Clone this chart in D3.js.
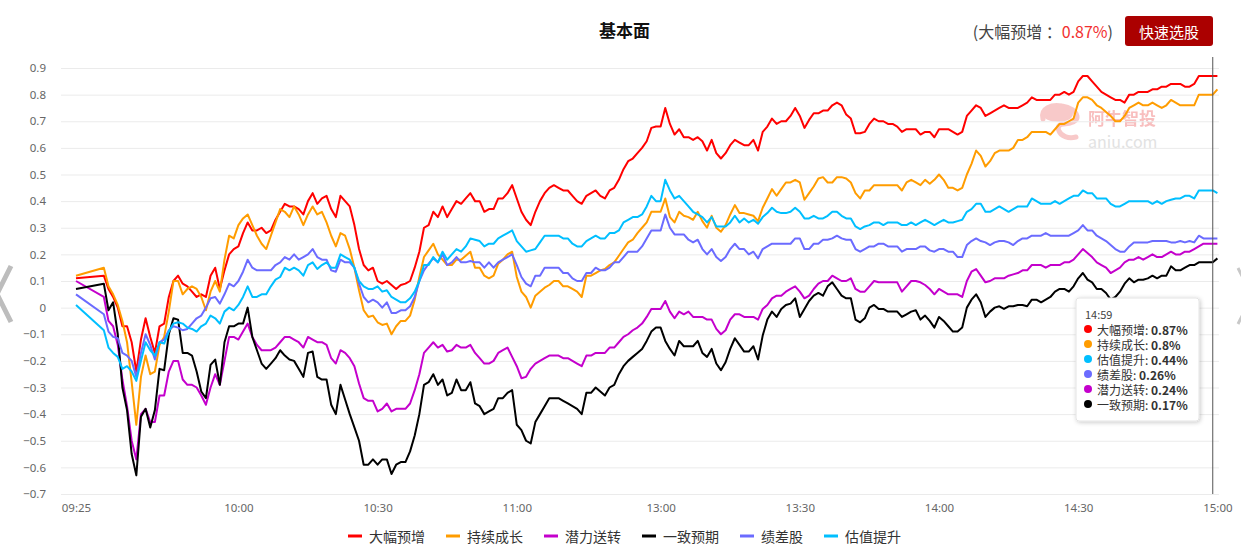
<!DOCTYPE html>
<html lang="zh">
<head>
<meta charset="UTF-8">
<title>基本面</title>
<script src="https://cdn.jsdelivr.net/npm/d3@7/dist/d3.min.js"></script>
<style>
  body { margin: 0; background: #fff; }
  .chart { width: 1241px; height: 557px; }
  text { font-family: "Noto Sans CJK SC", "Noto Sans", sans-serif; }
  .axis text { font-family: "Noto Sans", "DejaVu Sans", sans-serif; font-size: 11.5px; fill: #666; }
  .axis line { stroke: #ebebeb; }
  .axis path { display: none; }
</style>
</head>
<body>
<div class="chart"></div>
<script>
// --- data ---------------------------------------------------------------
// minute categories: 09:25 .. 11:30, 13:00 .. 15:00
var times = [];
function pad(n) { return (n < 10 ? "0" : "") + n; }
for (var m = 9 * 60 + 25; m <= 11 * 60 + 30; m++) times.push(pad(Math.floor(m / 60)) + ":" + pad(m % 60));
for (var m2 = 13 * 60; m2 <= 15 * 60; m2++) times.push(pad(Math.floor(m2 / 60)) + ":" + pad(m2 % 60));

var xTickLabels = ["09:25", "10:00", "10:30", "11:00", "13:00", "13:30", "14:00", "14:30", "15:00"];
var yTickValues = [-0.7, -0.6, -0.5, -0.4, -0.3, -0.2, -0.1, 0, 0.1, 0.2, 0.3, 0.4, 0.5, 0.6, 0.7, 0.8, 0.9];

var seriesNames = ["大幅预增", "持续成长", "潜力送转", "一致预期", "绩差股", "估值提升"];
var seriesColors = ["#ff0000", "#ff9c00", "#c400cc", "#000000", "#6b6bff", "#00bfff"];

var dafuyuzeng = [
  .11, null, null, null, null, null, .12, .07, .04, .00,
  -.07, -.07, -.13, -.24, -.12, -.04, -.11, -.17, -.07, -.06,
  .04, .10, .12, .09, .08, .06, .04, .05, .04, .12,
  .15, .07, .14, .20, .22, .23, .28, .32, .29, .29,
  .30, .28, .29, .33, .36, .39, .38, .38, .37, .35,
  .40, .43, .39, .41, .42, .37, .34, .42, .40, .38,
  .31, .22, .16, .14, .15, .10, .09, .10, .085, .07,
  .085, .09, .10, .15, .21, .30, .31, .36, .34, .38,
  .34, .37, .40, .39, .41, .43, .40, .40, .36, .37,
  .37, .41, .41, .43, .46, .41, .36, .33, .31, .36,
  .40, .43, .45, .46, .45, .44, .44, .42, .40, .39,
  .42, .43, .44, .42, .41, .44, .45, .48, .52, .55,
  .56, .58, .60, .625, .675, .68, .68, .75, .69, .65,
  .67, .64, .64, .63, .64, .625, .59, .63, .58, .56,
  .58, .61, .63, .62, .61, .61, .63, .59, .66, .68,
  .71, .69, .70, .70, .72, .75, .72, .675, .705, .73,
  .73, .74, .74, .76, .77, .76, .725, .71, .655, .655,
  .66, .69, .71, .70, .70, .69, .69, .68, .66, .67,
  .67, .67, .65, .66, .66, .64, .67, .67, .67, .66,
  .65, .66, .72, .74, .76, .75, .72, .73, .74, .75,
  .76, .75, .75, .75, .76, .77, .79, .78, .78, .78,
  .78, .80, .80, .81, .80, .81, .85, .87, .87, .85,
  .83, .81, .80, .79, .78, .78, .77, .80, .80, .81,
  .81, .81, .82, .82, .83, .83, .84, .84, .84, .83,
  .83, .84, .87, .87, .87, .87, .87
];

var chixuchengzhang = [
  .12, null, null, null, null, null, .15, .08, .05, .01,
  -.05, -.13, -.28, -.44, -.26, -.18, -.25, -.24, -.14, -.11,
  -.015, .10, .10, .05, .07, .08, .07, .04, -.01, .06,
  .10, .06, .18, .27, .26, .31, .335, .35, .31, .27,
  .24, .22, .27, .32, .37, .36, .34, .38, .35, .31,
  .35, .38, .35, .36, .32, .27, .23, .28, .27, .22,
  .15, .065, -.01, -.035, -.03, -.055, -.065, -.06, -.10, -.07,
  -.05, -.05, -.03, .03, .115, .19, .215, .24, .20, .18,
  .16, .16, .18, .18, .195, .21, .15, .15, .12, .11,
  .12, .165, .18, .20, .21, .115, .06, .04, .00, .045,
  .06, .075, .085, .10, .10, .08, .08, .07, .06, .04,
  .12, .12, .13, .14, .145, .16, .17, .195, .22, .245,
  .255, .28, .30, .32, .36, .36, .36, .41, .34, .32,
  .36, .345, .34, .33, .36, .325, .30, .345, .30, .285,
  .31, .35, .385, .355, .355, .35, .345, .325, .375, .41,
  .445, .42, .445, .47, .47, .48, .47, .405, .43, .455,
  .485, .49, .47, .47, .49, .49, .485, .47, .43, .41,
  .44, .44, .46, .46, .46, .46, .46, .46, .44, .47,
  .48, .47, .46, .48, .465, .48, .50, .48, .45, .45,
  .44, .45, .50, .54, .59, .57, .53, .55, .58, .59,
  .59, .59, .60, .63, .63, .64, .66, .66, .66, .66,
  .65, .67, .69, .69, .70, .71, .77, .79, .79, .78,
  .76, .75, .735, .72, .70, .70, .72, .75, .76, .77,
  .76, .76, .77, .76, .75, .76, .78, .77, .76, .76,
  .76, .76, .80, .80, .80, .80, .82
];

var qianlisongzhuan = [
  .10, null, null, null, null, null, .04, -.05, -.07, -.14,
  -.27, -.37, -.50, -.57, -.40, -.38, -.43, -.43, -.33, -.33,
  -.24, -.20, -.20, -.27, -.29, -.29, -.30, -.33, -.365, -.30,
  -.25, -.29, -.20, -.11, -.11, -.12, -.09, -.06, -.11, -.14,
  -.16, -.16, -.16, -.15, -.13, -.11, -.11, -.12, -.13, -.15,
  -.11, -.12, -.13, -.13, -.14, -.19, -.21, -.16, -.17, -.19,
  -.22, -.285, -.34, -.35, -.35, -.39, -.38, -.36, -.39, -.38,
  -.38, -.38, -.36, -.31, -.25, -.17, -.15, -.13, -.15, -.14,
  -.165, -.16, -.14, -.15, -.15, -.14, -.17, -.19, -.21, -.21,
  -.20, -.17, -.16, -.15, -.185, -.22, -.265, -.26, -.23, -.21,
  -.20, -.19, -.18, -.18, -.18, -.19, -.19, -.20, -.21, -.22,
  -.18, -.18, -.17, -.17, -.17, -.15, -.15, -.13, -.11, -.10,
  -.085, -.075, -.06, -.035, -.005, -.005, -.005, .025, -.015, -.04,
  -.015, -.025, -.015, -.035, -.035, -.035, -.045, -.045, -.08, -.10,
  -.085, -.045, -.025, -.025, -.035, -.035, -.035, -.045, -.005, .01,
  .035, .045, .045, .06, .07, .08, .06, .035, .045, .07,
  .09, .10, .10, .12, .11, .10, .10, .11, .07, .06,
  .06, .08, .10, .095, .095, .095, .095, .095, .06, .08,
  .10, .10, .095, .085, .07, .05, .07, .06, .05, .05,
  .05, .04, .10, .135, .145, .12, .095, .10, .11, .11,
  .11, .12, .125, .13, .14, .14, .16, .16, .16, .15,
  .16, .16, .16, .17, .17, .18, .20, .22, .205, .19,
  .17, .16, .15, .13, .14, .15, .17, .18, .18, .19,
  .18, .19, .20, .19, .19, .20, .21, .20, .20, .21,
  .21, .22, .23, .24, .24, .24, .24
];

var yizhiyuqi = [
  .07, null, null, null, null, null, .09, -.01, .02, -.10,
  -.30, -.385, -.55, -.63, -.41, -.38, -.45, -.385, -.23, -.235,
  -.10, -.04, -.045, -.17, -.17, -.18, -.24, -.315, -.34, -.215,
  -.195, -.29, -.13, -.07, -.07, -.06, -.06, .00, -.11, -.16,
  -.21, -.23, -.21, -.19, -.16, -.18, -.195, -.20, -.23, -.26,
  -.17, -.165, -.26, -.27, -.27, -.365, -.40, -.29, -.345, -.40,
  -.45, -.50, -.59, -.59, -.57, -.59, -.57, -.57, -.625, -.59,
  -.58, -.58, -.54, -.48, -.40, -.29, -.28, -.25, -.29, -.27,
  -.33, -.32, -.27, -.31, -.31, -.28, -.36, -.37, -.40, -.39,
  -.38, -.34, -.34, -.32, -.31, -.44, -.46, -.50, -.51, -.43,
  -.40, -.37, -.34, -.34, -.34, -.35, -.36, -.37, -.38, -.40,
  -.32, -.32, -.30, -.315, -.33, -.30, -.29, -.25, -.22, -.20,
  -.185, -.17, -.155, -.125, -.09, -.075, -.075, -.125, -.155, -.18,
  -.125, -.145, -.145, -.145, -.125, -.17, -.185, -.155, -.21, -.235,
  -.205, -.155, -.115, -.14, -.165, -.165, -.145, -.195, -.105, -.045,
  -.015, -.035, -.005, .01, .015, .035, -.035, -.005, .025, .045,
  .055, .045, .08, .095, .07, .045, .035, .035, -.045, -.055,
  -.04, .00, .01, -.005, -.005, -.015, -.015, -.015, -.035, -.025,
  -.015, -.01, -.045, -.03, -.05, -.075, -.035, -.05, -.07, -.09,
  -.09, -.075, .00, .03, .05, .02, -.035, -.015, .00, .005,
  -.005, .005, .005, .01, .01, .005, .03, .03, .02, .03,
  .04, .06, .07, .07, .06, .08, .11, .13, .105, .095,
  .07, .07, .055, .03, .04, .06, .09, .11, .095, .105,
  .105, .11, .12, .11, .12, .12, .155, .14, .14, .15,
  .16, .16, .17, .17, .17, .17, .185
];

var jichagu = [
  .05, null, null, null, null, null, -.025, -.09, -.11, -.115,
  -.17, -.18, -.20, -.26, -.17, -.10, -.14, -.195, -.13, -.12,
  -.085, -.07, -.075, -.085, -.08, -.06, -.04, -.03, .00, .035,
  .04, .015, .05, .09, .08, .10, .135, .18, .15, .14,
  .14, .14, .14, .16, .17, .19, .18, .20, .18, .19,
  .20, .22, .19, .18, .18, .14, .135, .18, .17, .17,
  .15, .09, .04, .02, .03, .02, .00, .02, -.02, -.02,
  -.01, -.01, .005, .04, .10, .14, .165, .185, .17, .20,
  .16, .17, .19, .17, .17, .175, .17, .17, .15, .17,
  .15, .17, .18, .19, .20, .16, .115, .09, .08, .12,
  .12, .15, .15, .15, .15, .13, .13, .11, .10, .10,
  .13, .13, .15, .14, .14, .15, .17, .17, .19, .21,
  .21, .21, .23, .26, .29, .29, .29, .35, .30, .275,
  .275, .275, .255, .245, .255, .22, .20, .22, .19, .175,
  .19, .22, .24, .22, .22, .20, .21, .185, .22, .23,
  .24, .24, .24, .24, .24, .26, .26, .22, .22, .24,
  .24, .255, .255, .26, .27, .26, .255, .255, .22, .21,
  .22, .23, .23, .24, .24, .23, .23, .23, .21, .22,
  .22, .22, .23, .23, .215, .21, .22, .22, .21, .21,
  .19, .19, .235, .25, .26, .25, .245, .235, .245, .25,
  .25, .245, .235, .25, .26, .26, .27, .27, .27, .28,
  .27, .27, .27, .27, .27, .28, .29, .31, .29, .29,
  .27, .26, .25, .235, .22, .21, .21, .23, .245, .245,
  .245, .245, .25, .25, .25, .25, .245, .245, .25, .245,
  .25, .245, .27, .26, .26, .26, .26
];

var guzhitisheng = [
  .01, null, null, null, null, null, -.085, -.15, -.17, -.185,
  -.23, -.22, -.24, -.275, -.20, -.13, -.16, -.18, -.13, -.135,
  -.09, -.06, -.055, -.06, -.075, -.08, -.09, -.07, -.06, -.03,
  -.04, -.06, -.015, .00, -.01, .01, .04, .08, .04, .04,
  .05, .05, .08, .105, .115, .15, .14, .15, .14, .12,
  .16, .17, .145, .16, .17, .15, .15, .20, .19, .18,
  .15, .10, .08, .07, .07, .08, .06, .065, .04, .03,
  .02, .02, .035, .06, .10, .16, .16, .19, .17, .21,
  .18, .20, .22, .21, .23, .26, .255, .25, .23, .24,
  .24, .26, .27, .28, .29, .25, .23, .21, .215, .22,
  .245, .27, .27, .27, .27, .26, .26, .24, .23, .23,
  .25, .26, .27, .26, .26, .28, .28, .29, .32, .33,
  .34, .34, .35, .38, .42, .40, .40, .48, .44, .41,
  .42, .40, .38, .36, .35, .34, .32, .34, .305, .305,
  .305, .32, .345, .32, .335, .32, .33, .315, .34, .355,
  .375, .36, .355, .355, .36, .375, .36, .335, .335, .345,
  .335, .335, .345, .36, .36, .345, .335, .335, .305, .295,
  .305, .31, .32, .32, .31, .32, .32, .32, .31, .31,
  .32, .31, .32, .33, .32, .31, .32, .33, .32, .32,
  .325, .33, .36, .37, .39, .39, .36, .36, .37, .38,
  .37, .36, .37, .38, .38, .38, .41, .40, .39, .39,
  .39, .40, .39, .40, .41, .42, .42, .44, .43, .43,
  .41, .41, .41, .39, .38, .38, .39, .40, .40, .40,
  .40, .40, .39, .40, .39, .40, .405, .41, .41, .42,
  .42, .41, .44, .44, .44, .44, .43
];

var seriesValues = [dafuyuzeng, chixuchengzhang, qianlisongzhuan, yizhiyuqi, jichagu, guzhitisheng];
var cursorTime = "14:59";

seriesValues.forEach(function(s, k) {
  if (s.length != times.length) throw new Error(seriesNames[k] + " has " + s.length + " values, expected " + times.length);
});

// --- layout -------------------------------------------------------------
var width = 1241;
var height = 557;
var grid = { left: 61, right: 1219, top: 68, bottom: 494 };

var x = d3.scaleLinear()
  .domain([0, times.length - 1])
  .range([76, 1217.4]);

var y = d3.scaleLinear()
  .domain([-0.7, 0.9])
  .range([grid.bottom, grid.top]);

var svg = d3.select(".chart")
  .append("svg")
  .attr("width", width)
  .attr("height", height);

var defs = svg.append("defs");
var shadow = defs.append("filter").attr("id", "shadow")
  .attr("x", "-20%").attr("y", "-20%").attr("width", "140%").attr("height", "140%");
shadow.append("feDropShadow")
  .attr("dx", 1).attr("dy", 1).attr("stdDeviation", 2)
  .attr("flood-color", "#000").attr("flood-opacity", 0.22);

// title
svg.append("text")
  .attr("x", 624.5)
  .attr("y", 29)
  .attr("text-anchor", "middle")
  .attr("dominant-baseline", "central")
  .attr("font-size", "17px")
  .attr("font-weight", "bold")
  .attr("fill", "#111")
  .text("基本面");

// header value + button
var cursorIdx = times.indexOf(cursorTime);
var head = svg.append("text")
  .attr("x", 1113)
  .attr("y", 31)
  .attr("text-anchor", "end")
  .attr("dominant-baseline", "central")
  .attr("font-size", "16px");
head.append("tspan").attr("fill", "#444").text("(" + seriesNames[0] + " ：");
head.append("tspan").attr("fill", "#f23030").text(dafuyuzeng[cursorIdx] + "%");
head.append("tspan").attr("fill", "#444").text(")");

svg.append("rect")
  .attr("x", 1125).attr("y", 16)
  .attr("width", 88).attr("height", 30)
  .attr("rx", 3)
  .attr("fill", "#ab0000");
svg.append("text")
  .attr("x", 1169).attr("y", 31)
  .attr("text-anchor", "middle")
  .attr("dominant-baseline", "central")
  .attr("font-size", "15px")
  .attr("fill", "#fff")
  .text("快速选股");

// watermark
var wm = svg.append("g").attr("opacity", 0.45);
wm.append("path")
  .attr("d", "M1043,119 C1040,108 1052,104 1062,106 C1070,107 1076,111 1077,116 C1078,121 1071,124 1064,124 C1059,124 1057,127 1059,131 C1061,136 1068,139 1076,137")
  .attr("fill", "none")
  .attr("stroke", "#f08a8a")
  .attr("stroke-width", 5)
  .attr("stroke-linecap", "round");
wm.append("ellipse")
  .attr("cx", 1058).attr("cy", 114).attr("rx", 15).attr("ry", 8)
  .attr("fill", "#f08a8a");
wm.append("text")
  .attr("x", 1088).attr("y", 117)
  .attr("dominant-baseline", "central")
  .attr("font-size", "17px")
  .attr("font-weight", "bold")
  .attr("fill", "#f07070")
  .text("阿牛智投");
svg.append("text")
  .attr("x", 1088).attr("y", 141)
  .attr("dominant-baseline", "central")
  .attr("font-family", "'Noto Sans', sans-serif")
  .attr("font-size", "16px")
  .attr("fill", "#e2e2e2")
  .text("aniu.com");

// y axis + grid
svg.append("g")
  .attr("class", "axis")
  .attr("transform", "translate(" + grid.left + ",0)")
  .call(d3.axisLeft(y)
    .tickValues(yTickValues)
    .tickSize(-(grid.right - grid.left))
    .tickPadding(15)
    .tickFormat(d3.format(".1~f")));

// x axis
var xTickIdx = xTickLabels.map(function(t) { return times.indexOf(t); });
svg.append("g")
  .attr("class", "axis")
  .attr("transform", "translate(0," + grid.bottom + ")")
  .call(d3.axisBottom(x)
    .tickValues(xTickIdx)
    .tickSize(0)
    .tickPadding(10)
    .tickFormat(function(i) { return times[i]; }));

// lines
var line = d3.line()
  .x(function(d) { return x(d.i); })
  .y(function(d) { return y(d.v); });

var lines = svg.append("g");
seriesValues.forEach(function(s, k) {
  var pts = s.map(function(v, i) { return { i: i, v: v }; })
    .filter(function(d) { return d.v != null; });
  lines.append("path")
    .datum(pts)
    .attr("d", line)
    .attr("fill", "none")
    .attr("stroke", seriesColors[k])
    .attr("stroke-width", 2)
    .attr("stroke-linejoin", "round");
});

// cursor line
svg.append("line")
  .attr("x1", x(cursorIdx)).attr("x2", x(cursorIdx))
  .attr("y1", 57).attr("y2", grid.bottom)
  .attr("stroke", "#555")
  .attr("stroke-width", 1);

// side arrows
svg.append("polyline")
  .attr("points", "11,266 -3,294 11,322")
  .attr("fill", "none").attr("stroke", "#bdbdbd").attr("stroke-width", 5);
svg.append("polyline")
  .attr("points", "1238,268 1252,296 1238,324")
  .attr("fill", "none").attr("stroke", "#c8c8c8").attr("stroke-width", 3);

// legend
var legend = svg.append("g");
var lx = 0;
seriesNames.forEach(function(name, k) {
  var g = legend.append("g");
  g.append("line")
    .attr("x1", 0).attr("x2", 14)
    .attr("y1", 0).attr("y2", 0)
    .attr("stroke", seriesColors[k])
    .attr("stroke-width", 3);
  var t = g.append("text")
    .attr("x", 21)
    .attr("y", 0)
    .attr("dominant-baseline", "central")
    .attr("font-size", "14px")
    .attr("fill", "#333")
    .text(name);
  g.attr("transform", "translate(" + lx + ",0)");
  lx += 21 + t.node().getComputedTextLength() + 21;
});
var legendW = lx - 21;
legend.attr("transform", "translate(" + (624.5 - legendW / 2) + ",536)");

// tooltip at cursor
var tip = svg.append("g").attr("transform", "translate(1076,298)");
tip.append("rect")
  .attr("width", 123).attr("height", 123)
  .attr("rx", 3)
  .attr("fill", "#fff")
  .attr("stroke", "#e4e4e4")
  .attr("filter", "url(#shadow)");
tip.append("text")
  .attr("x", 9).attr("y", 16)
  .attr("dominant-baseline", "central")
  .attr("font-family", "'Noto Sans', sans-serif")
  .attr("font-size", "11px")
  .attr("fill", "#444")
  .text(cursorTime);

var rows = seriesNames.map(function(name, k) {
  return { name: name, color: seriesColors[k], v: seriesValues[k][cursorIdx] };
}).sort(function(a, b) { return b.v - a.v; });

rows.forEach(function(r, j) {
  var ry = 31 + j * 15;
  tip.append("circle")
    .attr("cx", 12).attr("cy", ry).attr("r", 4)
    .attr("fill", r.color);
  var t = tip.append("text")
    .attr("x", 21).attr("y", ry)
    .attr("dominant-baseline", "central")
    .attr("font-size", "12px")
    .attr("fill", "#333");
  t.append("tspan").text(r.name + ": ");
  t.append("tspan").attr("font-weight", "bold").text(+r.v.toFixed(2) + "%");
});
</script>
</body>
</html>
